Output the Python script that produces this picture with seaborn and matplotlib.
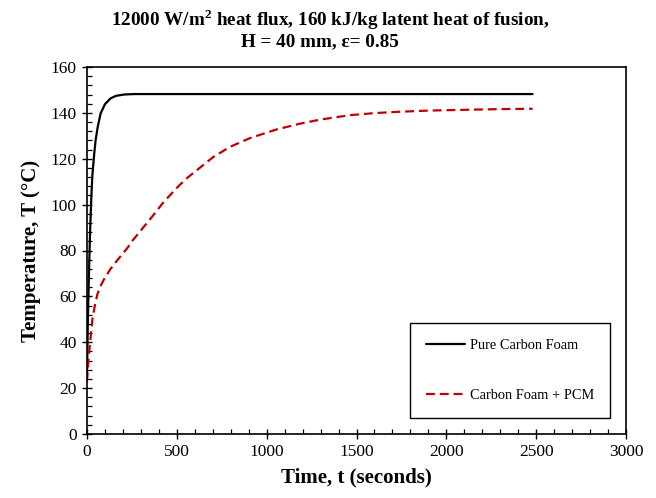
import numpy as np
import pandas as pd
import matplotlib
matplotlib.use("Agg")
import matplotlib.pyplot as plt
from matplotlib.ticker import MultipleLocator
import seaborn as sns

# Transient temperature histories (time in s, temperature in °C)
t_pure = [0, 2, 5, 11, 17, 24, 30, 40, 48, 60, 76, 100, 131, 160, 206, 260,
          350, 500, 1000, 1500, 2000, 2480]
T_pure = [25, 36, 50, 70, 88, 103, 113, 122, 128.2, 134, 139.8, 143.8, 146.3,
          147.4, 148.0, 148.2, 148.2, 148.2, 148.2, 148.2, 148.2, 148.2]

t_pcm = [0, 2, 5, 11, 20, 30, 45, 58, 75, 95, 131, 169, 224, 252, 317, 370,
         419, 470, 511, 560, 611, 700, 796, 907, 1056, 1186, 1300, 1464, 1600,
         1742, 1900, 2020, 2200, 2350, 2480]
T_pcm = [23, 26, 29.5, 35, 42, 50, 56.5, 61, 64.5, 67.5, 72, 75.8, 81, 84.2,
         90.4, 95.5, 100.4, 104.8, 108.2, 111.8, 115, 120.6, 125.2, 129.0,
         132.8, 135.3, 137.1, 139.0, 139.9, 140.5, 141.0, 141.2, 141.5, 141.7,
         141.8]

series_labels = ["Pure Carbon Foam", "Carbon Foam + PCM"]
title_line1 = r"12000 W/m$^\mathbf{2}$ heat flux, 160 kJ/kg latent heat of fusion,"
title_line2 = "H = 40 mm, ε= 0.85"
x_label = "Time, t (seconds)"
y_label = "Temperature, T (°C)"

sns.set_style("white")
plt.rcParams["font.family"] = ["Liberation Serif", "DejaVu Serif"]
plt.rcParams["mathtext.fontset"] = "custom"
plt.rcParams["mathtext.rm"] = "Liberation Serif"
plt.rcParams["mathtext.bf"] = "Liberation Serif:bold"
plt.rcParams["text.color"] = "black"
plt.rcParams["axes.labelcolor"] = "black"

fig = plt.figure(figsize=(6.56, 4.98), dpi=100)
ax = fig.add_axes([87 / 656, 1 - 434 / 498, (626 - 87) / 656, (434 - 67) / 498])

sns.lineplot(x=t_pure, y=T_pure, ax=ax, color="black", linewidth=1.6,
             label=series_labels[0])
sns.lineplot(x=t_pcm, y=T_pcm, ax=ax, color="#C00000", linewidth=1.6,
             label=series_labels[1])
ax.lines[1].set_dashes([4, 2.2])

ax.set_xlim(0, 3000)
ax.set_ylim(0, 160)
ax.xaxis.set_major_locator(MultipleLocator(500))
ax.xaxis.set_minor_locator(MultipleLocator(100))
ax.yaxis.set_major_locator(MultipleLocator(20))
ax.yaxis.set_minor_locator(MultipleLocator(4))
ax.tick_params(which="major", direction="inout", length=7, width=1,
               labelsize=12.5, color="black", labelcolor="black", pad=4)
ax.tick_params(which="minor", direction="in", length=3.5, width=0.9,
               color="black")
ax.tick_params(top=False, right=False, which="both")
ax.tick_params(axis="both", which="both", bottom=True, left=True)

for sp in ax.spines.values():
    sp.set_color("black")
    sp.set_linewidth(1.2)

ax.set_xlabel(x_label, fontsize=15, fontweight="bold", labelpad=5)
ax.set_ylabel(y_label, fontsize=15, fontweight="bold", labelpad=7)

fig.text(330 / 656, 1 - 20 / 498, title_line1, ha="center", va="center",
         fontsize=13.8, fontweight="bold")
fig.text(320 / 656, 1 - 42 / 498, title_line2, ha="center", va="center",
         fontsize=13.8, fontweight="bold")

leg = ax.legend(loc="center", bbox_to_anchor=(0.785, 0.173), fontsize=10.4,
                frameon=True, fancybox=False, edgecolor="black",
                labelspacing=2.55, borderpad=1.1, handlelength=2.7,
                handletextpad=0.3, borderaxespad=0)
leg.get_frame().set_linewidth(1.0)
leg.get_frame().set_facecolor("white")
leg.get_frame().set_alpha(1)
for txt in leg.get_texts():
    txt.set_color("black")

fig.savefig("out.png", dpi=100)
